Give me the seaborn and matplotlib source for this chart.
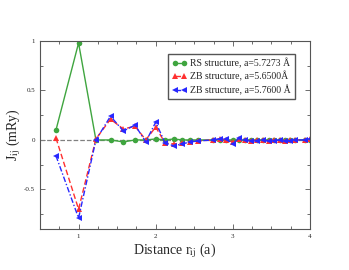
import pandas as pd
import numpy as np
import matplotlib
matplotlib.use('Agg')
import matplotlib.pyplot as plt
import seaborn as sns
from matplotlib.ticker import MultipleLocator

# fcc shell distances in units of a
dist = [0.707, 1.0, 1.225, 1.414, 1.581, 1.732, 1.871, 2.0, 2.121, 2.236,
        2.345, 2.449, 2.550, 2.739, 2.828, 2.915, 3.0, 3.082, 3.162, 3.240,
        3.317, 3.391, 3.464, 3.536, 3.606, 3.674, 3.742, 3.808, 3.937, 4.0]

# exchange constants J_ij (mRy)
j_rs = [0.10, 0.98, 0.00, 0.00, -0.02, 0.00, 0.00, 0.01, 0.00, 0.01,
        0.00, 0.00, 0.00, 0.00, 0.00, 0.00, 0.00, 0.00, 0.00, 0.00,
        0.00, 0.00, 0.00, 0.00, 0.00, 0.00, 0.00, 0.00, 0.00, 0.00]
j_zb1 = [0.02, -0.70, 0.01, 0.21, 0.11, 0.14, 0.00, 0.13, -0.03, -0.04,
         -0.03, -0.02, -0.01, 0.00, 0.01, 0.00, -0.02, 0.01, 0.00, -0.01,
         0.00, 0.00, -0.01, 0.00, 0.00, -0.01, 0.00, 0.00, 0.00, 0.01]
j_zb2 = [-0.16, -0.79, 0.00, 0.24, 0.09, 0.15, -0.02, 0.18, -0.03, -0.06,
         -0.04, -0.02, -0.01, 0.00, 0.01, 0.01, -0.04, 0.02, 0.00, -0.01,
         -0.01, 0.00, -0.01, -0.01, 0.00, -0.01, -0.01, 0.00, 0.00, 0.01]

labels = ['RS structure, a=5.7273 Å', 'ZB structure, a=5.6500Å',
          'ZB structure, a=5.7600 Å']

df = pd.DataFrame({'r': dist, 'rs': j_rs, 'zb1': j_zb1, 'zb2': j_zb2})

sns.set_style('ticks')
plt.rcParams['font.family'] = ['Liberation Serif', 'DejaVu Serif']
plt.rcParams['mathtext.fontset'] = 'stix'

fig = plt.figure(figsize=(3.49, 2.70), dpi=100)
ax = fig.add_axes([0.1146, 0.152, 0.7736, 0.696])

ax.axhline(0, color='gray', linestyle='--', linewidth=0.9, zorder=1)

sns.lineplot(data=df, x='r', y='rs', ax=ax, color='#3fa53f', marker='o',
             markersize=4, linewidth=1, markeredgewidth=0, label=labels[0])
sns.lineplot(data=df, x='r', y='zb1', ax=ax, color='#ff3030', marker='^',
             markersize=4.5, linewidth=1, markeredgewidth=0,
             linestyle=(0, (4, 2)), label=labels[1])
sns.lineplot(data=df, x='r', y='zb2', ax=ax, color='#2828ff', marker='<',
             markersize=4.5, linewidth=1, markeredgewidth=0,
             linestyle=(0, (4, 1.5, 1, 1.5)), label=labels[2])

ax.set_xlim(0.5, 4)
ax.set_ylim(-0.9, 1)
ax.xaxis.set_minor_locator(MultipleLocator(0.25))
ax.yaxis.set_minor_locator(MultipleLocator(0.25))
ax.set_yticks([-0.5, 0, 0.5, 1])
ax.set_yticklabels(['-0.5', '0', '0.5', '1'])
ax.set_xticks([1, 2, 3, 4])
ax.set_xticklabels(['1', '2', '3', '4'])
ax.tick_params(which='both', direction='in', top=True, right=True,
               labelsize=5, color='#555555', width=0.6)
ax.tick_params(which='major', length=3.5)
ax.tick_params(which='minor', length=2)
for s in ax.spines.values():
    s.set_color('#555555')
    s.set_linewidth(0.8)

ax.set_xlabel(r'Distance r$_{\rm ij}$ (a)', fontsize=10, labelpad=2)
ax.set_ylabel(r'J$_{\rm ij}$ (mRy)', fontsize=10, labelpad=1)

ax.legend(loc='upper right', bbox_to_anchor=(0.944, 0.931), fontsize=7,
          numpoints=2, fancybox=False, edgecolor='#555555', framealpha=1,
          handlelength=1.6, handletextpad=0.3, borderpad=0.4,
          labelspacing=0.3, borderaxespad=0)

fig.savefig('out.png', dpi=100)
